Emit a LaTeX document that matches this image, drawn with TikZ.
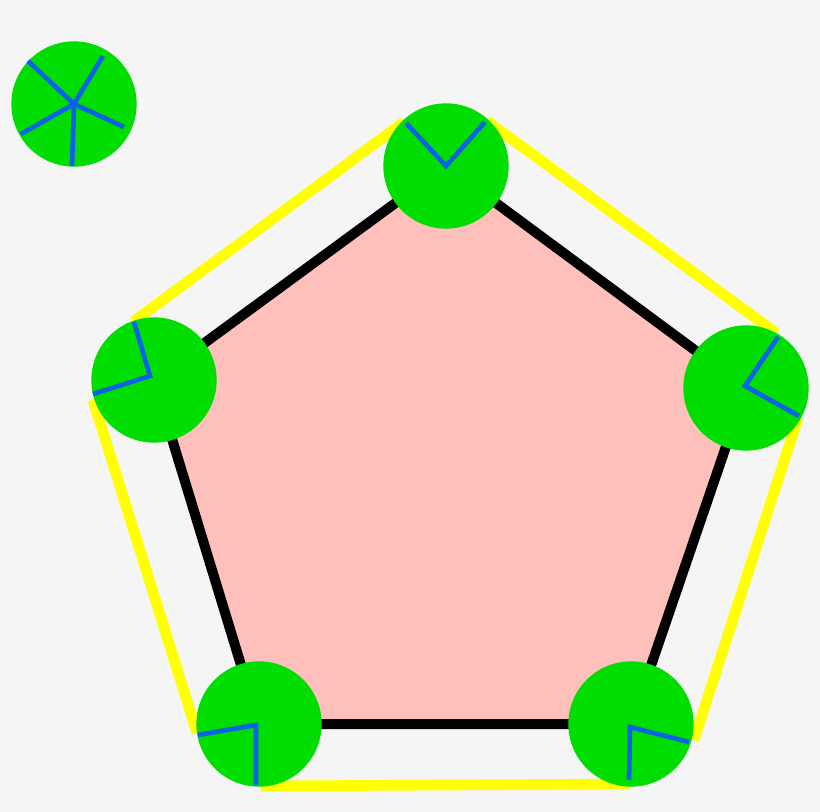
\documentclass[tikz,border=0pt]{standalone}

\definecolor{paper}{HTML}{F5F5F5}
\definecolor{facepink}{HTML}{FFC0BB}
\definecolor{jointgreen}{HTML}{00DD00}
\definecolor{spokeblue}{HTML}{0F62E6}
\definecolor{rimyellow}{HTML}{FFFF00}

\tikzset{
  joint/.style={shape=circle, fill=jointgreen, minimum size=94pt, inner sep=0pt},
  spoke/.style={draw=spokeblue, line width=3.5pt},
  rim/.style={draw=rimyellow, line width=8pt},
}

\begin{document}
\begin{tikzpicture}[x=0.75pt, y=-0.75pt]
\useasboundingbox (0,0) rectangle (820,812);
\fill[paper] (0,0) rectangle (820,812);

              % corners of the face
\coordinate (pt) at (446,166);
\coordinate (pl) at (154,380);
\coordinate (pr) at (746,388);
\coordinate (pbl) at (259,724);
\coordinate (pbr) at (631,724);

\draw[fill=facepink, draw=black, line width=7.5pt, line join=miter]
  (pt) -- (pr) -- (pbr) -- (pbl) -- (pl) -- cycle;

              % outer rim
\coordinate (tl) at (406,123);
\coordinate (tr) at (485,122);
\coordinate (lt) at (134,322);
\coordinate (lb) at (93,394);
\coordinate (rt) at (778,337);
\coordinate (rb) at (799,416);
\coordinate (bll) at (198,735);
\coordinate (blb) at (256,785);
\coordinate (brb) at (629,780);
\coordinate (brr) at (689,742);

\coordinate (a1) at (404,122);
\coordinate (a2) at (133,322);
\coordinate (b1) at (93,400);
\coordinate (b2) at (197,733);
\coordinate (c1) at (261,786);
\coordinate (c2) at (630,784);
\coordinate (d1) at (694,740);
\coordinate (d2) at (798,418);
\coordinate (e1) at (776,333);
\coordinate (e2) at (487,121);

\draw[rim] (a1) -- (a2);
\draw[rim] (b1) -- (b2);
\draw[rim] (c1) -- (c2);
\draw[rim] (d1) -- (d2);
\draw[rim] (e1) -- (e2);

              % joints
\node[joint] at (pt) (jt) {};
\node[joint] at (pl) (jl) {};
\node[joint] at (pr) (jr) {};
\node[joint] at (pbl) (jbl) {};
\node[joint] at (pbr) (jbr) {};
\node[joint] at (74,104) (js) {};

\coordinate (lc) at (150,376);
\coordinate (rc) at (745,386);
\coordinate (blc) at (256,725);
\coordinate (brc) at (630,727);

\draw[spoke] (tl) -- (jt.center) -- (tr);
\draw[spoke] (lt) -- (lc) -- (lb);
\draw[spoke] (rt) -- (rc) -- (rb);
\draw[spoke] (bll) -- (blc) -- (blb);
\draw[spoke] (brb) -- (brc) -- (brr);

              % small joint
\coordinate (s1) at (28,61);
\coordinate (s2) at (103,56);
\coordinate (s3) at (124,127);
\coordinate (s4) at (72,166);
\coordinate (s5) at (21,134);
\draw[spoke]
  (js.center) -- (s1)
  (js.center) -- (s2)
  (js.center) -- (s3)
  (js.center) -- (s4)
  (js.center) -- (s5)
;
\end{tikzpicture}
\end{document}
